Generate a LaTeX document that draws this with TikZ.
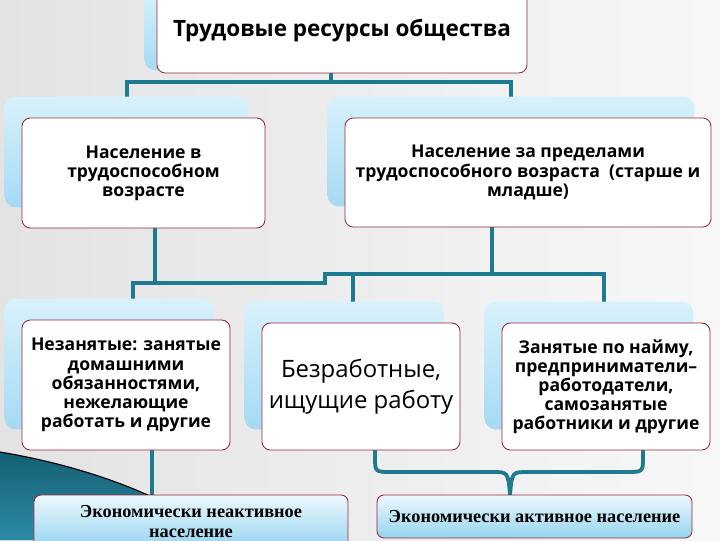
\documentclass[tikz,border=0pt]{standalone}
\usepackage{fontspec}
\setmainfont{Open Sans}
\newfontfamily\timesru{Liberation Serif}
\usepackage{tikz}
\usetikzlibrary{calc}
\definecolor{lnc}{RGB}{30,122,142}
\definecolor{brd}{RGB}{150,40,60}
\definecolor{shA}{RGB}{216,241,252}
\definecolor{shB}{RGB}{165,218,243}
\definecolor{rsA}{RGB}{236,248,253}
\definecolor{rsB}{RGB}{150,212,240}
\definecolor{swA}{RGB}{20,95,115}
\definecolor{swB}{RGB}{45,140,165}
\pgfdeclarelayer{bg}\pgfdeclarelayer{mid}\pgfsetlayers{bg,mid,main}

\begin{document}
\begin{tikzpicture}[x=0.025cm,y=-0.025cm,
  box/.style={draw=brd,line width=0.6pt,fill=white,rounded corners=6pt,align=center,inner sep=2pt,
    font=\fontsize{12.5}{13.6}\selectfont\bfseries},
  res/.style={draw=brd,line width=0.6pt,top color=rsA,bottom color=rsB,rounded corners=5pt,align=center,
    inner sep=2pt,font=\timesru\fontsize{13}{14.5}\selectfont\bfseries},
  bk/.style={top color=shA,bottom color=shB,rounded corners=8pt},
  ln/.style={draw=lnc,line width=2.7pt}]
\useasboundingbox (0,0) rectangle (720,540);
% boxes
\node[box,minimum width=9.25cm,minimum height=2.1cm,font=\fontsize{16}{18}\selectfont\bfseries] (t) at (342,31) {\raisebox{-4pt}{Трудовые ресурсы общества}};
\node[box,minimum width=6.075cm,minimum height=2.75cm] (a) at (143.5,173) {Население в\\трудоспособном\\возрасте};
\node[box,minimum width=9.15cm,minimum height=2.725cm] (b) at (528,172.5) {Население за пределами\\трудоспособного возраста \ (старше и\\младше)};
\node[box,minimum width=5.2cm,minimum height=3.25cm] (c) at (126,385) {Незанятые: занятые\\домашними\\обязанностями,\\нежелающие\\работать и другие};
\node[box,minimum width=4.95cm,minimum height=3.175cm,font=\fontsize{17}{22}\selectfont] (d) at (361,386.5) {Безработные,\\ищущие работу};
\node[box,minimum width=5.2cm,minimum height=3.175cm] (e) at (606,386.5) {Занятые по найму,\\предприниматели–\\работодатели,\\самозанятые\\работники и другие};
\node[res,minimum width=7.85cm,minimum height=1.325cm] (f) at (191,521.5) {Экономически неактивное\\население};
\node[res,minimum width=7.875cm,minimum height=1.075cm] (g) at (534.5,516.5) {Экономически активное население};
% bends
\coordinate (tm) at (331,82); \coordinate (ta) at (127,82); \coordinate (tb) at (511,82);
\coordinate (l1) at (155,283); \coordinate (l2) at (133,283); \coordinate (l3) at (325,283);
\coordinate (r1) at (492,274); \coordinate (r2) at (353,274); \coordinate (r3) at (604,274);
\coordinate (q) at (152,470);
\coordinate (bl) at (375,446); \coordinate (br) at (643,446); \coordinate (bm) at (510,494);
\begin{pgfonlayer}{mid}
\shade[bk] ($(t.north west)+(-12,0)$) rectangle ($(t.south east)+(-12,-3)$);
\foreach \n in {a,b,c,d,e}
  \shade[bk] ($(\n.north west)+(-17,-21)$) rectangle ($(\n.south east)+(-17,-21)$);
\end{pgfonlayer}
\begin{pgfonlayer}{bg}
\shade[left color=gray!22,right color=gray!6] (0,0) rectangle (720,540);
\shade[top color=swA,bottom color=swB] (0,452) .. controls (60,462) and (110,478) .. (150,496) -- (150,540) -- (0,540) -- cycle;
\draw[black,line width=0.8pt] (0,452) .. controls (60,462) and (110,478) .. (150,496);
\draw[ln] (t.south -| tm) -- (tm);
\draw[ln] (a.north -| ta) -- (ta) -- (tb) -- (b.north -| tb);
\draw[ln] (a.south -| l1) -- (l1);
\draw[ln] (c.north -| l2) |- (l3) |- (r3) -- (e.north -| r3);
\draw[ln] (b.south -| r1) -- (r1);
\draw[ln] (d.north -| r2) -- (r2);
\draw[ln] (c.south -| q) -- (f.north -| q);
\draw[ln] (bl) -- (375,457) .. controls (375,472) .. (392,472) -- (492,472)
  .. controls (508,472) .. (g.north -| bm) .. controls (512,472) .. (528,472) -- (626,472)
  .. controls (643,472) .. (643,457) -- (br);
\end{pgfonlayer}
\end{tikzpicture}
\end{document}
